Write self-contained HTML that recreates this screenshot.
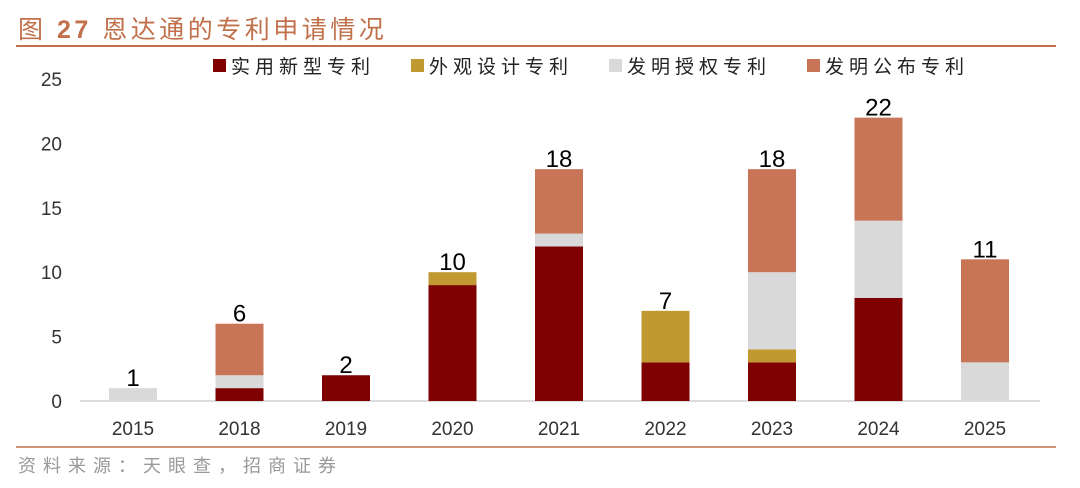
<!DOCTYPE html>
<html><head><meta charset="utf-8"><style>
body{margin:0;background:#fff;width:1080px;height:483px;overflow:hidden;font-family:"Liberation Sans","Noto Sans CJK SC",sans-serif}
</style></head><body>
<svg width="1080" height="483" id="svg">
<text x="18" y="38" font-size="25" fill="#c0704a" letter-spacing="3.5" font-family="Liberation Sans,Noto Sans CJK SC,sans-serif">图 <tspan font-weight="bold">27</tspan> 恩达通的专利申请情况</text>
<line x1="16" y1="46" x2="1056" y2="46" stroke="#c0704a" stroke-width="2"/>
<line x1="16" y1="447" x2="1056" y2="447" stroke="#c0704a" stroke-width="1.5"/>
<text x="18" y="472" font-size="18" fill="#999" letter-spacing="7">资料来源：天眼查，招商证券</text>
<g id="legend"></g>
<g id="axes"></g>
<g id="bars"></g>
</svg>
<script>
const categories=["2015","2018","2019","2020","2021","2022","2023","2024","2025"];
const utility=[0,1,2,9,12,3,3,8,0];
const design=[0,0,0,1,0,4,1,0,0];
const grant=[1,1,0,0,1,0,6,6,3];
const publicPat=[0,4,0,0,5,0,8,8,8];
const totals=[1,6,2,10,18,7,18,22,11];
const yTicks=[0,5,10,15,20,25];
const seriesNames=["实用新型专利","外观设计专利","发明授权专利","发明公布专利"];
const colors=["#7f0000","#c09a30","#d9d9d9","#c87456"];
const NS="http://www.w3.org/2000/svg";
const y=v=>401-v*12.88;
const x=i=>133+i*106.5;
function mk(t,a,p){const e=document.createElementNS(NS,t);for(const k in a)e.setAttribute(k,a[k]);p.appendChild(e);return e;}
const ax=document.getElementById('axes'),bg=document.getElementById('bars'),lg=document.getElementById('legend');
yTicks.forEach(v=>{const t=mk('text',{x:62,y:y(v)+7,'font-size':19,'text-anchor':'end',fill:'#333'},ax);t.textContent=v;

});
const al=mk('line',{x1:80,y1:401,x2:1040,y2:401,stroke:'#bbb','stroke-width':1},ax);


const series=[utility,design,grant,publicPat];
categories.forEach((c,i)=>{
 let base=0;
 series.forEach((s,k)=>{if(s[i]>0){const r=mk('rect',{x:x(i)-24,y:y(base+s[i]),width:48,height:y(base)-y(base+s[i]),fill:colors[k]},bg);
 
 
 base+=s[i];}});
 const tl=mk('text',{x:x(i),y:y(totals[i])-2,'font-size':24,'text-anchor':'middle',fill:'#000'},bg);tl.textContent=totals[i];
 
 
 const xl=mk('text',{x:x(i),y:435,'font-size':19,'text-anchor':'middle',fill:'#333'},ax);xl.textContent=c;
 
 
});
seriesNames.forEach((n,k)=>{const lx=213+k*198;
 const r=mk('rect',{x:lx,y:59,width:13,height:13,fill:colors[k]},lg);
 
 
 const t=mk('text',{x:lx+18,y:73,'font-size':19,fill:'#222','letter-spacing':'5'},lg);t.textContent=n;
 
 });
</script>
</body></html>
